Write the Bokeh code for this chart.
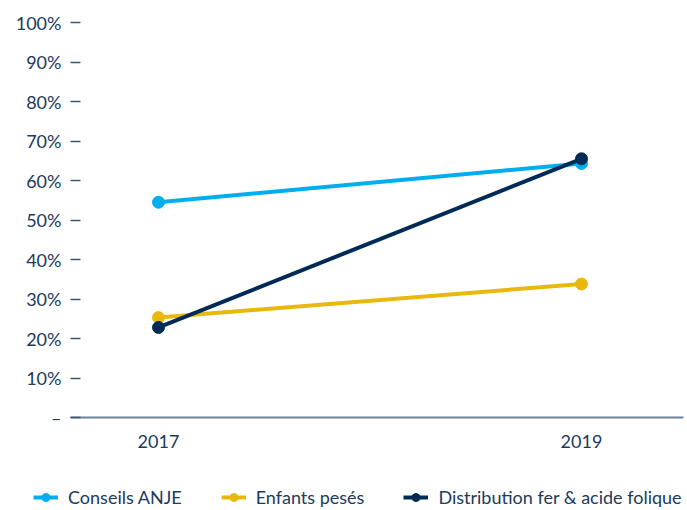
from bokeh.plotting import figure
from bokeh.models import Legend, LegendItem, FixedTicker, Range1d
from bokeh.embed import file_html
from bokeh.resources import INLINE

years = [2017, 2019]
conseils_anje = [54.5, 64.3]
enfants_peses = [25.3, 33.8]
distribution_fer = [22.8, 65.5]
series_names = ["Conseils ANJE", "Enfants pesés", "Distribution fer & acide folique"]
series_colors = ["#00AEEF", "#E8B90C", "#002B54"]
y_ticks = [0, 10, 20, 30, 40, 50, 60, 70, 80, 90, 100]
y_tick_labels = ["–", "10%", "20%", "30%", "40%", "50%", "60%", "70%", "80%", "90%", "100%"]
x_tick_labels = ["2017", "2019"]

FONT = "Lato"
TEXT = "#1B3A5C"

# plot area covers the full canvas; axes are pinned inside it
X0, X1 = 2016.2530, 2019.5012
Y0, Y1 = -23.54, 105.57
AXIS_LEFT, AXIS_RIGHT = 2016.5839, 2019.4823

p = figure(width=687, height=510, output_backend="svg", toolbar_location=None,
           x_range=Range1d(X0, X1), y_range=Range1d(Y0, Y1),
           min_border=0, min_border_left=0, min_border_right=0,
           min_border_top=0, min_border_bottom=0)
p.outline_line_color = None
p.xgrid.grid_line_color = None
p.ygrid.grid_line_color = None
p.background_fill_color = "white"
p.border_fill_color = "white"

items = []
for vals, name, col in zip([conseils_anje, enfants_peses, distribution_fer], series_names, series_colors):
    l = p.line(years, vals, line_color=col, line_width=4)
    s = p.scatter(years, vals, size=12, fill_color=col, line_color=col)
    items.append(LegendItem(label=name, renderers=[l, s]))

# y axis
ya = p.yaxis[0]
ya.fixed_location = AXIS_LEFT
ya.ticker = FixedTicker(ticks=y_ticks)
ya.major_label_overrides = {t: lab for t, lab in zip(y_ticks, y_tick_labels)}
ya.axis_line_color = None
ya.major_tick_in = 10
ya.major_tick_out = 0
ya.major_tick_line_color = "#3a5573"
ya.major_tick_line_width = 1.5
ya.minor_tick_line_color = None
ya.major_label_standoff = 9
ya.major_label_text_font = FONT
ya.major_label_text_font_size = "18px"
ya.major_label_text_color = TEXT

# x axis
xa = p.xaxis[0]
xa.fixed_location = 0
xa.bounds = (AXIS_LEFT, AXIS_RIGHT)
xa.ticker = FixedTicker(ticks=years)
xa.major_label_overrides = {y: lab for y, lab in zip(years, x_tick_labels)}
xa.axis_line_color = "#6B8196"
xa.axis_line_width = 2
xa.major_tick_line_color = None
xa.minor_tick_line_color = None
xa.major_tick_in = 0
xa.major_tick_out = 0
xa.major_label_standoff = 17
xa.major_label_text_font = FONT
xa.major_label_text_font_size = "18px"
xa.major_label_text_color = TEXT

legend = Legend(items=items, orientation="horizontal", location=(33, 2),
                glyph_width=25, glyph_height=20, label_standoff=10, spacing=39,
                padding=0, margin=0, border_line_color=None,
                label_text_font=FONT, label_text_font_size="18px", label_text_color=TEXT,
                background_fill_alpha=0)
p.add_layout(legend, "center")

open("out.html", "w").write(file_html(p, INLINE))
